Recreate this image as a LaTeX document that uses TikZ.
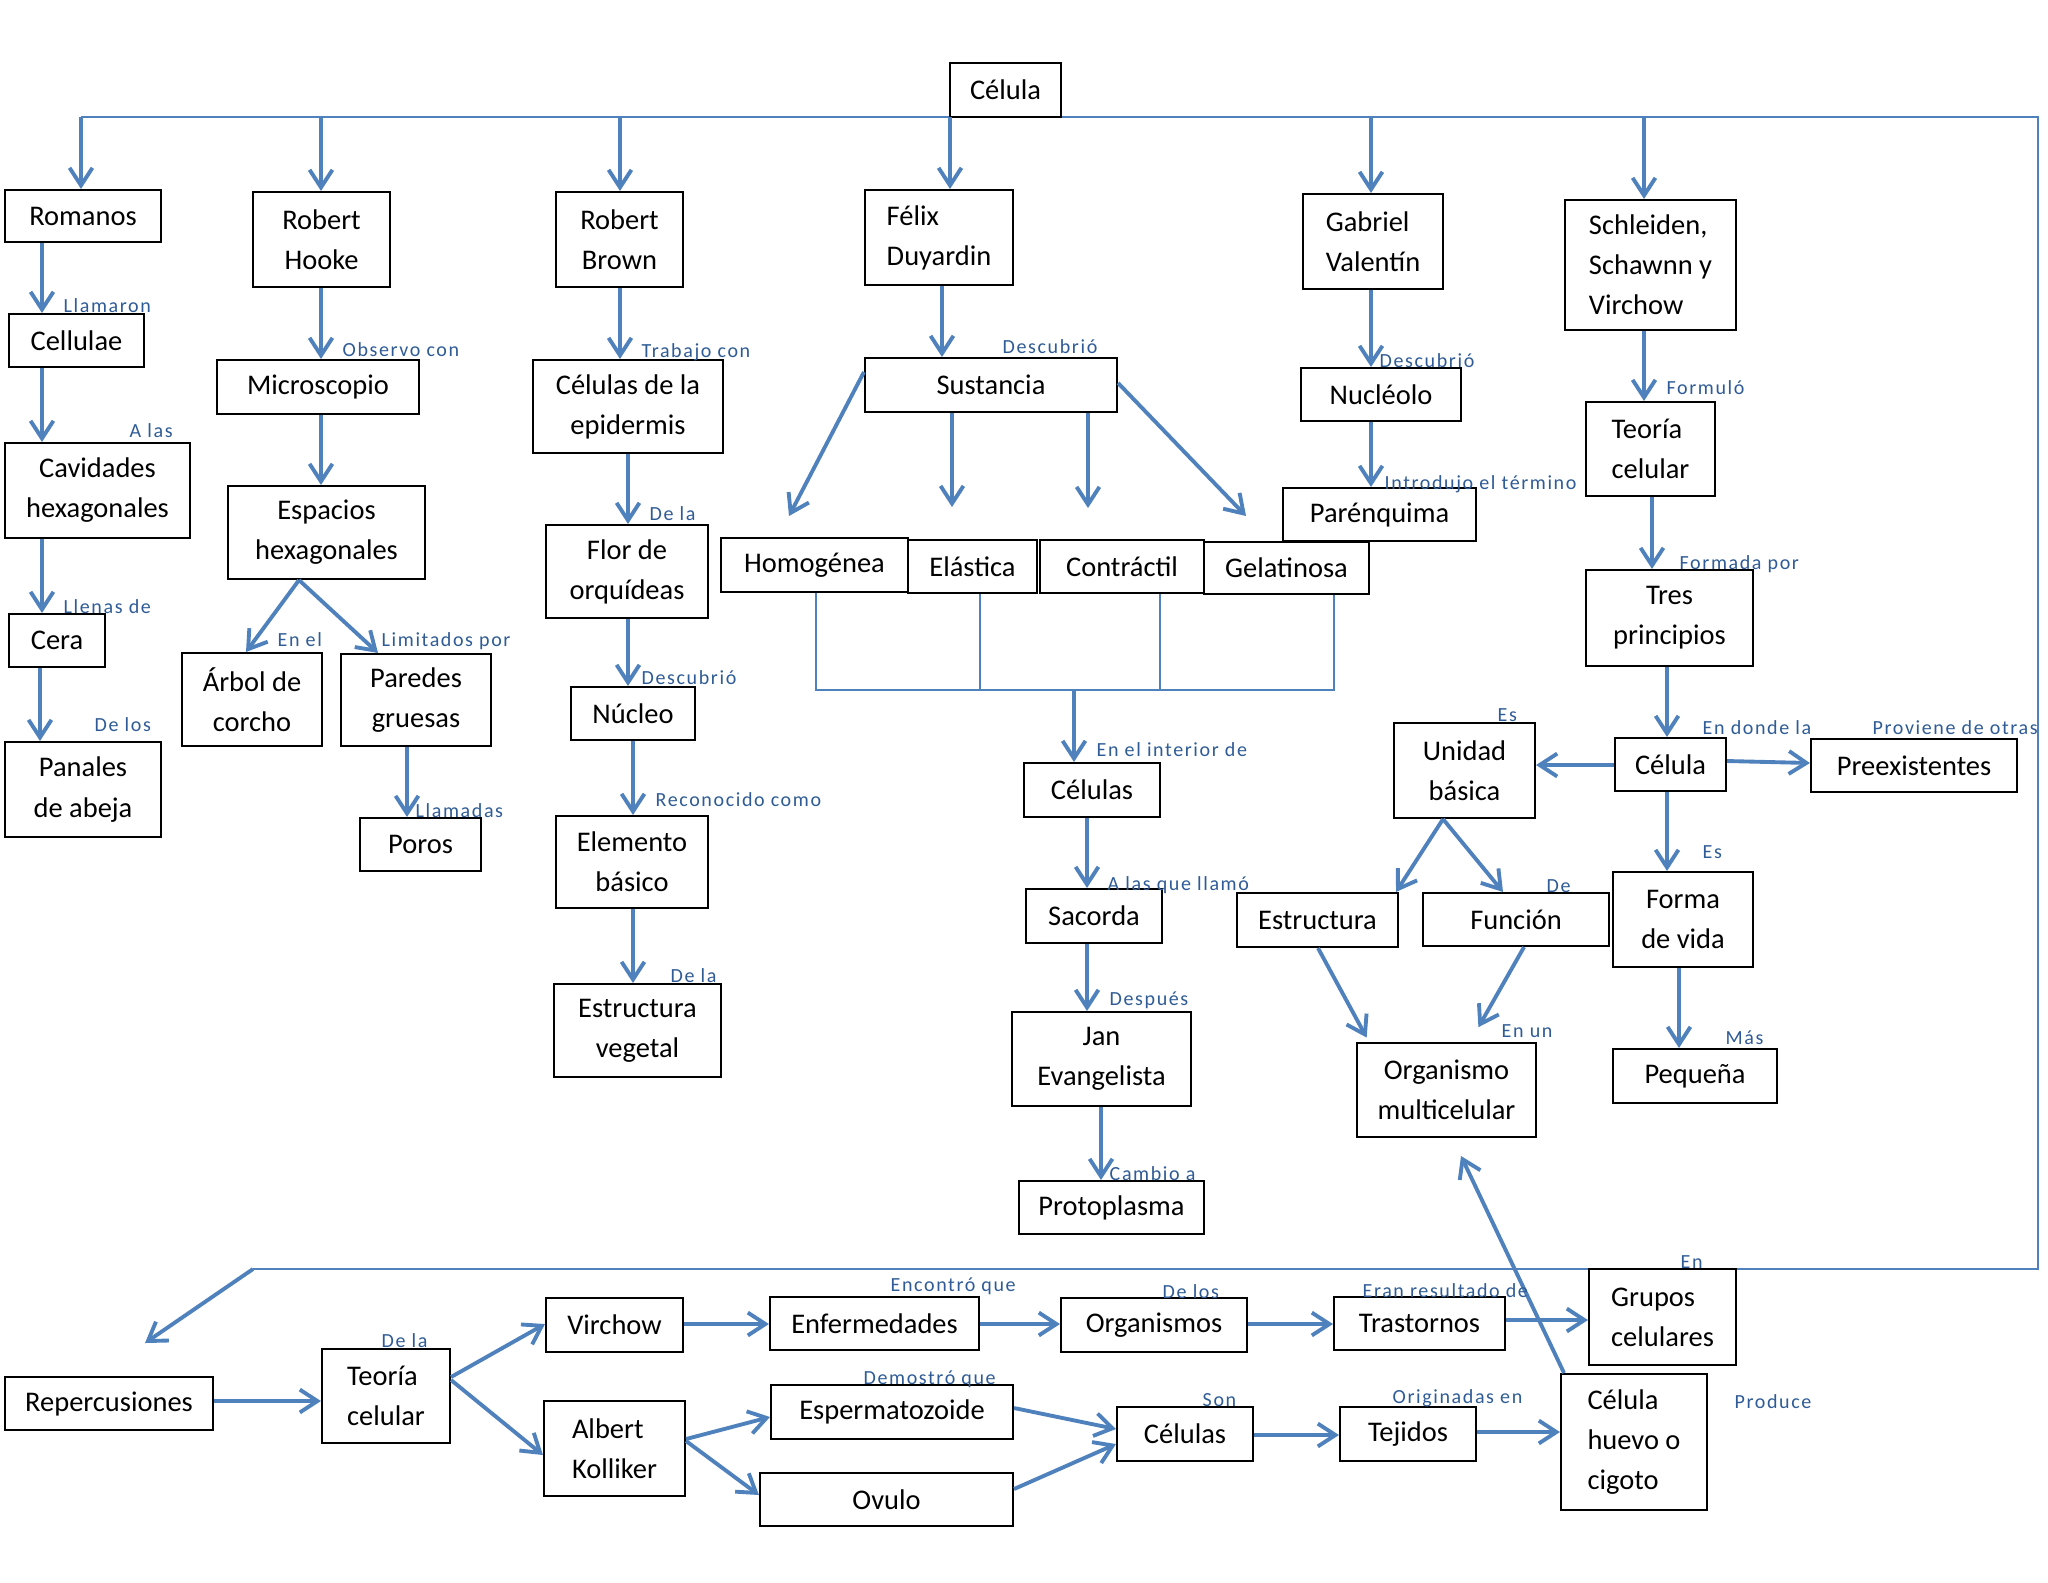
\documentclass[tikz,border=0pt]{standalone}
\usepackage{fontspec}
\setmainfont{Carlito}
\newfontfamily\rotfont[LetterSpace=8]{Carlito}
\usetikzlibrary{arrows.meta}
\definecolor{Linea}{HTML}{4F81BD}
\definecolor{Rotulo}{HTML}{2F5C96}

\begin{document}
\begin{tikzpicture}[
  x=0.1mm,
  y=-0.1mm,
  font=\fontsize{8.1}{11.4}\selectfont,
  box/.style={draw, line width=0.6pt, inner sep=0pt},
  arr/.style={draw=Linea, line width=1.1pt,
    -{Straight Barb[length=5pt,width=6.5pt]}},
  bus/.style={draw=Linea, line width=0.45pt},
  rot/.style={anchor=base west, inner sep=0pt, text=Rotulo,
    font=\rotfont\fontsize{5.7}{7}\selectfont}
  ]
\fill[white] (0,0) rectangle (2048,1582);
\coordinate (bus) at (81,117);
\coordinate (bus2) at (253,1269);
\coordinate (bra) at (816,690);
\coordinate (s1) at (789,516);
\coordinate (s2) at (952,507);
\coordinate (s3) at (1088,508);
\coordinate (s4) at (1246,516);
\coordinate (pr) at (145,1343);
\coordinate (ph) at (1461,1156);
\draw[bus] (bus) -- (2038,0 |- bus) -- (2038,0 |- bus2) -- (bus2);
\foreach \n/\xa/\ya/\xb/\yb/\t in {
  cel/950/63/1061/117/Célula,
  rom/5/190/161/242/Romanos,
  hoo/253/192/390/287/{Robert\\Hooke},
  bro/556/192/683/287/{Robert\\Brown},
  cell/9/314/144/367/Cellulae,
  cav/5/443/190/538/{Cavidades\\hexagonales},
  cer/9/614/105/667/Cera,
  pan/5/742/161/837/{Panales\\de abeja},
  mic/217/360/419/414/Microscopio,
  esp/228/486/425/579/{Espacios\\hexagonales},
  arb/182/653/322/746/{Árbol de\\corcho},
  par/341/654/491/746/{Paredes\\gruesas},
  por/360/818/481/871/Poros,
  epi/533/360/723/453/{Células de la\\epidermis},
  flo/546/525/708/618/{Flor de\\orquídeas},
  nuc/571/687/695/740/Núcleo,
  ele/556/816/708/908/{Elemento\\básico},
  veg/554/984/721/1077/{Estructura\\vegetal},
  sus/865/358/1117/412/Sustancia,
  hom/721/538/908/592/Homogénea,
  ela/908/540/1037/593/Elástica,
  con/1040/540/1204/593/Contráctil,
  gel/1204/542/1369/594/Gelatinosa,
  celB/1024/763/1160/817/Células,
  sac/1026/889/1162/943/Sacorda,
  jan/1012/1012/1191/1106/{Jan\\Evangelista},
  pro/1019/1181/1204/1234/Protoplasma,
  nuo/1301/368/1461/421/Nucléolo,
  pare/1283/488/1476/541/Parénquima,
  tres/1586/570/1753/666/{Tres\\principios},
  cel2/1615/738/1726/791/Célula,
  pre/1811/739/2017/792/Preexistentes,
  uni/1394/723/1535/818/{Unidad\\básica},
  vida/1613/872/1753/967/{Forma\\de vida},
  peq/1613/1049/1777/1103/Pequeña,
  est/1237/893/1398/947/Estructura,
  fun/1423/893/1609/946/Función,
  org/1357/1043/1536/1137/{Organismo\\multicelular},
  rep/5/1377/213/1430/Repercusiones,
  vir/546/1298/683/1352/Virchow,
  enf/770/1297/979/1350/Enfermedades,
  espz/771/1385/1013/1439/Espermatozoide,
  ovu/760/1473/1013/1526/Ovulo,
  orgs/1061/1298/1247/1352/Organismos,
  celC/1117/1407/1253/1461/Células,
  tra/1334/1297/1505/1350/Trastornos,
  tej/1340/1407/1476/1461/Tejidos}
  \node[box, align=center, minimum width={(\xb-\xa)*0.1mm},
    minimum height={(\yb-\ya)*0.1mm}]
    (\n) at ({(\xa+\xb)/2},{(\ya+\yb)/2}) {\t};
\foreach \n/\xa/\ya/\xb/\yb/\t in {
  fel/865/190/1013/285/{Félix\\Duyardin},
  gab/1303/194/1443/289/{Gabriel\\Valentín},
  sch/1565/200/1736/330/{Schleiden,\\Schawnn y\\Virchow},
  teo/1586/402/1715/496/{Teoría\\celular},
  teoB/322/1349/450/1443/{Teoría\\celular},
  alb/544/1401/685/1496/{Albert\\Kolliker},
  gru/1589/1269/1736/1365/{Grupos\\celulares},
  hue/1561/1374/1707/1510/{Célula\\huevo o\\cigoto}}
  \node[box, align=left, minimum width={(\xb-\xa)*0.1mm},
    minimum height={(\yb-\ya)*0.1mm}]
    (\n) at ({(\xa+\xb)/2},{(\ya+\yb)/2}) {\t};
\draw[bus] (816,0 |- hom.south) -- (bra) -- (1334,0 |- bra)
  -- (1334,0 |- gel.south);
\draw[bus] (980,0 |- ela.south) -- (980,0 |- bra);
\draw[bus] (1160,0 |- con.south) -- (1160,0 |- bra);
\foreach \x/\q in {81/rom, 321/hoo, 620/bro, 950/fel, 1371/gab, 1644/sch}
  \draw[arr] (\x,0 |- bus) -- (\x,0 |- \q.north);
\foreach \p/\xa/\q/\xb in {
  rom/42/cell/42, cell/42/cav/42, cav/42/cer/42, cer/40/pan/40,
  hoo/321/mic/321, mic/321/esp/321, esp/299/arb/246, esp/299/par/378,
  par/407/por/407, bro/620/epi/620, epi/628/flo/628, flo/628/nuc/628,
  nuc/633/ele/633, ele/633/veg/633, fel/942/sus/942,
  celB/1087/sac/1087, sac/1087/jan/1087, jan/1101/pro/1101,
  gab/1371/nuo/1371, nuo/1371/pare/1371,
  sch/1644/teo/1644, teo/1652/tres/1652, tres/1667/cel2/1667,
  cel2/1667/vida/1667, vida/1679/peq/1679,
  uni/1443/est/1396, uni/1443/fun/1503}
  \draw[arr] (\xa,0 |- \p.south) -- (\xb,0 |- \q.north);
\foreach \p/\ya/\q/\yb in {
  cel2/761/pre/763, rep/1401/teoB/1401, teoB/1377/vir/1324,
  teoB/1380/alb/1455, vir/1324/enf/1324, enf/1324/orgs/1324,
  orgs/1324/tra/1324, tra/1320/gru/1320, alb/1439/espz/1417,
  alb/1441/ovu/1495, espz/1408/celC/1429, ovu/1489/celC/1444,
  celC/1435/tej/1435, tej/1432/hue/1432}
  \draw[arr] (\p.east |- 0,\ya) -- (\q.west |- 0,\yb);
\draw[arr] (cel2.west |- 0,765) -- (uni.east |- 0,765);
\draw[arr] (1074,0 |- bra) -- (1074,0 |- celB.north);
\draw[arr] (sus.west |- 0,372) -- (s1);
\draw[arr] (952,0 |- sus.south) -- (s2);
\draw[arr] (1088,0 |- sus.south) -- (s3);
\draw[arr] (sus.east |- 0,383) -- (s4);
\draw[arr, shorten >=0.5mm] (1318,0 |- est.south) -- (1369,0 |- org.north);
\draw[arr, shorten >=1.7mm] (1524,0 |- fun.south) -- (1470,0 |- org.north);
\draw[arr] (1564,0 |- hue.north) -- (ph);
\draw[arr] (bus2) -- (pr);
\path
  (63,312) node[rot] (llam) {Llamaron}
  (129,437) node[rot] (alas) {A las}
  (63,613) node[rot] (llen) {Llenas de}
  (94,731) node[rot] (delos) {De los}
  (342,356) node[rot] (obs) {Observo con}
  (277,646) node[rot] (enel) {En el}
  (381,646) node[rot] (lim) {Limitados por}
  (415,817) node[rot] (llamd) {Llamadas}
  (641,357) node[rot] (trab) {Trabajo con}
  (649,520) node[rot] (dela) {De la}
  (641,684) node[rot] (desc) {Descubrió}
  (655,806) node[rot] (reco) {Reconocido como}
  (670,982) node[rot] (dela2) {De la}
  (1002,353) node[rot] (desc2) {Descubrió}
  (1096,756) node[rot] (inte) {En el interior de}
  (1107,890) node[rot] (alq) {A las que llamó}
  (1109,1005) node[rot] (desp) {Después}
  (1109,1180) node[rot] (camb) {Cambio a}
  (1379,367) node[rot] (desc3) {Descubrió}
  (1384,489) node[rot] (intr) {Introdujo el término}
  (1666,394) node[rot] (form) {Formuló}
  (1679,569) node[rot] (fpor) {Formada por}
  (1702,734) node[rot] (dond) {En donde la}
  (1872,734) node[rot] (prov) {Proviene de otras}
  (1497,721) node[rot] (es) {Es}
  (1702,858) node[rot] (es2) {Es}
  (1546,892) node[rot] (de) {De}
  (1501,1037) node[rot] (enun) {En un}
  (1725,1044) node[rot] (mas) {Más}
  (381,1347) node[rot] (dela3) {De la}
  (890,1291) node[rot] (enco) {Encontró que}
  (1162,1298) node[rot] (delos2) {De los}
  (1362,1297) node[rot] (eran) {Eran resultado de}
  (1680,1268) node[rot] (en) {En}
  (863,1384) node[rot] (demo) {Demostró que}
  (1202,1406) node[rot] (son) {Son}
  (1392,1403) node[rot] (orig) {Originadas en}
  (1734,1408) node[rot] (prod) {Produce}
  ;
\end{tikzpicture}
\end{document}
